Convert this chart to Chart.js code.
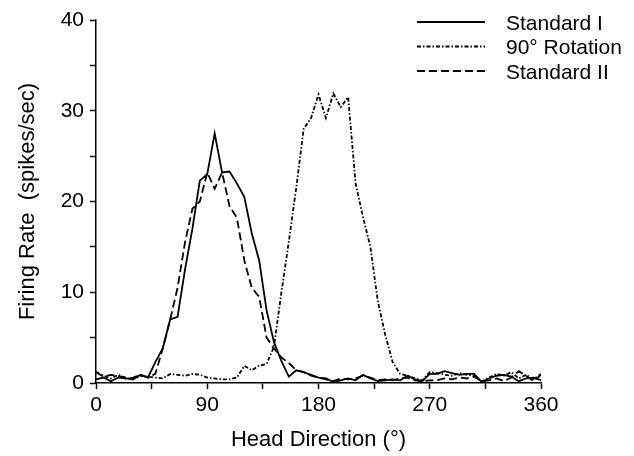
<!DOCTYPE html>
<html lang="en">

<head>
    <meta charset="UTF-8">
    <title>Head direction cell</title>
    <script src="https://cdn.jsdelivr.net/npm/chart.js"></script>
    <style>
        body { margin: 0; background: #fff; }
        #wrap { width: 634px; height: 456px; }
    </style>
</head>

<body>
    <div id="wrap">
        <canvas id="myChart" width="634" height="456"></canvas>
    </div>

    <script>
        // head direction bins (degrees)
        const angles = [0, 6, 12, 18, 24, 30, 36, 42, 48, 54, 60, 66, 72, 78, 84, 90, 96, 102, 108, 114,
            120, 126, 132, 138, 144, 150, 156, 162, 168, 174, 180, 186, 192, 198, 204, 210, 216, 222, 228, 234,
            240, 246, 252, 258, 264, 270, 276, 282, 288, 294, 300, 306, 312, 318, 324, 330, 336, 342, 348, 354, 360];

        const standardI = [0.4, 0.6, 0.2, 0.6, 0.5, 0.4, 0.9, 0.6, 2.3, 3.8, 7.0, 7.3, 12.5, 17.0, 22.3, 23.0, 27.5, 23.2, 23.3, 22.0,
            20.5, 16.5, 13.5, 8.0, 4.5, 2.4, 0.7, 1.4, 1.2, 0.9, 0.6, 0.5, 0.1, 0.3, 0.5, 0.3, 0.9, 0.5, 0.2, 0.3,
            0.4, 0.3, 0.8, 0.4, 0.2, 1.0, 1.0, 1.3, 1.1, 0.9, 1.0, 1.0, 0.1, 0.5, 0.8, 0.9, 0.7, 0.2, 0.5, 0.6, 0.3];

        const rotation90 = [1.2, 0.8, 0.5, 0.9, 0.6, 0.4, 0.8, 0.7, 0.6, 0.5, 1.0, 0.9, 0.8, 1.0, 0.9, 0.6, 0.5, 0.4, 0.4, 0.6,
            1.9, 1.4, 1.9, 2.1, 4.0, 10.0, 15.6, 21.5, 28.0, 29.2, 31.8, 29.2, 31.9, 30.4, 31.5, 22.0, 18.3, 15.0, 9.0, 5.3,
            2.3, 1.0, 0.8, 0.5, 0.3, 1.2, 1.1, 0.9, 0.8, 1.1, 0.9, 0.8, 0.2, 0.6, 1.0, 0.8, 1.2, 0.5, 0.9, 0.4, 1.0];

        const standardII = [1.2, 0.7, 0.9, 0.8, 0.5, 0.6, 0.9, 0.6, 1.0, 3.8, 7.0, 10.5, 15.5, 19.2, 20.0, 23.2, 21.4, 23.2, 19.5, 18.2,
            13.5, 10.5, 9.5, 5.0, 3.8, 2.8, 2.2, 1.4, 1.2, 0.8, 0.6, 0.4, 0.2, 0.5, 0.4, 0.5, 0.8, 0.6, 0.3, 0.4,
            0.3, 0.5, 0.6, 0.3, 0.2, 0.3, 0.3, 0.5, 0.4, 0.6, 0.5, 0.7, 0.2, 0.3, 0.5, 0.2, 0.6, 1.3, 0.8, 0.2, 0.9];

        const xTicks = [0, 90, 180, 270, 360];
        const yTicks = [0, 10, 20, 30, 40];

        const FONT = '"Liberation Sans", Arial, sans-serif';

        function pts(vals) {
            return angles.map((a, i) => ({ x: a, y: vals[i] }));
        }

        // legend drawn inside the plot, top right
        const legendLines = {
            id: 'legendLines',
            afterDraw(chart) {
                const ctx = chart.ctx;
                chart.data.datasets.forEach((ds, i) => {
                    const y = 22 + i * 24.5;
                    ctx.save();
                    ctx.strokeStyle = ds.borderColor;
                    ctx.lineWidth = ds.borderWidth;
                    ctx.setLineDash(ds.borderDash || []);
                    ctx.beginPath();
                    ctx.moveTo(417, y);
                    ctx.lineTo(485, y);
                    ctx.stroke();
                    ctx.setLineDash([]);
                    ctx.fillStyle = '#000';
                    ctx.font = '21px ' + FONT;
                    ctx.textBaseline = 'middle';
                    ctx.fillText(ds.label, 506, y + 2);
                    ctx.restore();
                });
            }
        };

        const ctx = document.getElementById('myChart');
        new Chart(ctx, {
            type: 'line',
            data: {
                datasets: [
                    {
                        label: 'Standard I',
                        data: pts(standardI),
                        borderColor: '#000',
                        borderWidth: 1.8,
                        borderDash: []
                    },
                    {
                        label: '90° Rotation',
                        data: pts(rotation90),
                        borderColor: '#000',
                        borderWidth: 1.8,
                        borderDash: [4, 2, 1.5, 2]
                    },
                    {
                        label: 'Standard II',
                        data: pts(standardII),
                        borderColor: '#000',
                        borderWidth: 1.8,
                        borderDash: [8, 4]
                    }
                ]
            },
            options: {
                responsive: false,
                animation: false,
                events: [],
                elements: {
                    point: { radius: 0 },
                    line: { tension: 0, fill: false }
                },
                layout: { padding: { left: 2, right: 93, top: 20, bottom: 0 } },
                plugins: {
                    legend: { display: false },
                    tooltip: { enabled: false }
                },
                scales: {
                    x: {
                        type: 'linear',
                        min: 0,
                        max: 360,
                        afterFit: s => { s.height = 73; },
                        ticks: {
                            stepSize: 45,
                            autoSkip: false,
                            maxRotation: 0,
                            color: '#000',
                            padding: 4,
                            font: { size: 21, family: FONT },
                            callback: v => xTicks.includes(v) ? String(v) : ''
                        },
                        grid: { drawOnChartArea: false, tickLength: 6, tickColor: '#000', tickWidth: 1.5 },
                        border: { color: '#000', width: 1.5 },
                        title: {
                            display: true,
                            text: 'Head Direction (°)',
                            color: '#000',
                            font: { size: 22, family: FONT },
                            padding: { top: 0, bottom: 3 }
                        }
                    },
                    y: {
                        min: 0,
                        max: 40,
                        afterFit: s => { s.width = 94; },
                        ticks: {
                            stepSize: 5,
                            autoSkip: false,
                            color: '#000',
                            padding: 6,
                            font: { size: 21, family: FONT },
                            callback: v => yTicks.includes(v) ? String(v) : ''
                        },
                        grid: { drawOnChartArea: false, tickLength: 6, tickColor: '#000', tickWidth: 1.5 },
                        border: { color: '#000', width: 1.5 },
                        title: {
                            display: true,
                            text: 'Firing Rate  (spikes/sec)',
                            color: '#000',
                            font: { size: 22, family: FONT },
                            padding: { top: 13, bottom: 0 }
                        }
                    }
                }
            },
            plugins: [legendLines]
        });
    </script>
</body>

</html>
